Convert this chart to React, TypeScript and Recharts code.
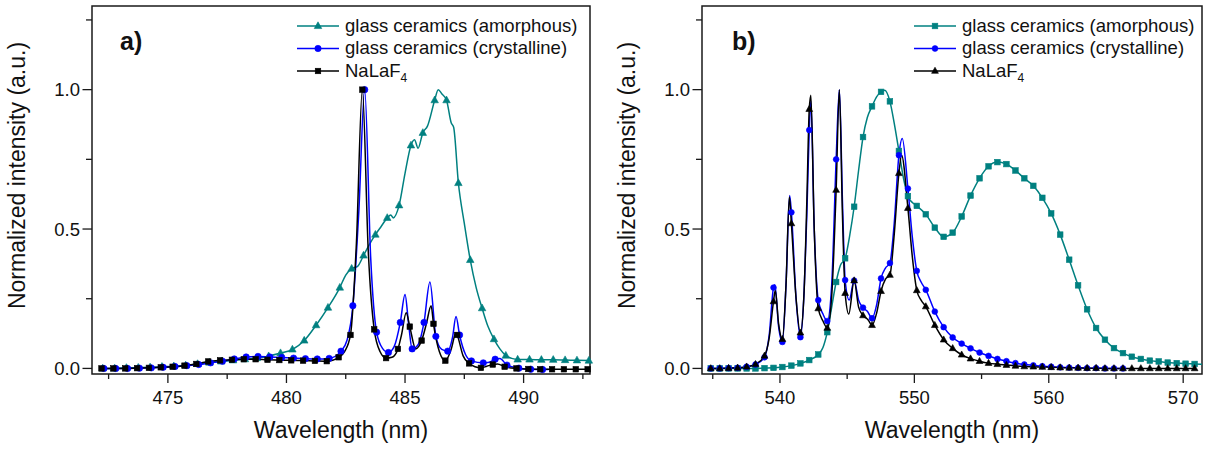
import React from 'react';
import { LineChart, Line, XAxis, YAxis, ReferenceArea, Legend, Label } from 'recharts';

const FONT = '"Liberation Sans", Arial, Helvetica, sans-serif';
const TEAL = '#008080';
const BLUE = '#0000ff';
const BLACK = '#000000';
const AXIS = '#1a1a1a';
const TEXT = '#111111';

// ---------- texts ----------
const SERIES_NAMES = ['glass ceramics (amorphous)', 'glass ceramics (crystalline)', 'NaLaF4'];
const X_TITLE = 'Wavelength (nm)';
const Y_TITLE = 'Normalized intensity (a.u.)';
const PANEL_LABELS = ['a)', 'b)'];

// ---------- axes ----------
const A_X_DOMAIN = [471.8, 492.8];
const A_X_MAJOR = [475, 480, 485, 490];
const A_X_MINOR = [472.5, 477.5, 482.5, 487.5, 492.5];
const B_X_DOMAIN = [534.2, 571.4];
const B_X_MAJOR = [540, 550, 560, 570];
const B_X_MINOR = [535, 545, 555, 565];
const Y_DOMAIN = [-0.02, 1.3];
const Y_MAJOR = [0, 0.5, 1.0];
const Y_MINOR = [0.25, 0.75, 1.25];

// symbol sampling (first symbol wavelength, spacing in nm)
const A_SYMBOL_START = [472.25, 472.3, 472.2];
const A_SYMBOL_STEP = 0.5;
const B_SYMBOL_START = [534.85, 534.85, 534.85];
const B_SYMBOL_STEP = 2 / 3;

// ---------- panel a data: [wavelength nm, normalized intensity] ----------
const A_AMORPHOUS: [number, number][] = [
  [472.25, 0.0], [472.75, 0.0], [473.25, 0.002], [473.75, 0.003], [474.25, 0.004], [474.75, 0.006],
  [475.25, 0.008], [475.75, 0.011], [476.25, 0.016], [476.75, 0.021], [477.25, 0.025], [477.75, 0.029],
  [478.25, 0.033], [478.75, 0.037], [479.25, 0.044], [479.75, 0.055], [480.25, 0.068], [480.75, 0.1],
  [481.25, 0.155], [481.75, 0.218], [482.25, 0.29], [482.5, 0.335], [482.75, 0.358], [483.0, 0.366],
  [483.25, 0.405], [483.5, 0.445], [483.75, 0.48], [484.0, 0.51], [484.25, 0.54], [484.4, 0.55],
  [484.5, 0.54], [484.75, 0.585], [485.0, 0.7], [485.25, 0.8], [485.4, 0.82], [485.55, 0.79],
  [485.75, 0.845], [485.95, 0.87], [486.25, 0.962], [486.4, 1.0], [486.55, 0.985], [486.75, 0.962],
  [486.95, 0.88], [487.05, 0.865], [487.25, 0.665], [487.5, 0.52], [487.75, 0.389], [488.0, 0.29],
  [488.25, 0.216], [488.5, 0.15], [488.75, 0.105], [489.0, 0.07], [489.25, 0.046], [489.5, 0.036],
  [489.75, 0.032], [490.25, 0.032], [490.75, 0.031], [491.25, 0.031], [491.75, 0.03], [492.25, 0.029],
  [492.75, 0.028],
];
const A_CRYSTALLINE: [number, number][] = [
  [472.3, 0.0], [472.8, 0.0], [473.3, 0.0], [473.8, 0.001], [474.3, 0.002], [474.8, 0.004],
  [475.3, 0.007], [475.8, 0.01], [476.3, 0.014], [476.8, 0.02], [477.3, 0.026], [477.8, 0.034],
  [478.3, 0.041], [478.8, 0.043], [479.3, 0.041], [479.8, 0.039], [480.3, 0.037], [480.8, 0.035],
  [481.3, 0.034], [481.8, 0.036], [482.3, 0.062], [482.55, 0.1], [482.8, 0.225], [483.05, 0.56],
  [483.3, 1.0], [483.55, 0.4], [483.8, 0.13], [484.05, 0.072], [484.3, 0.057], [484.55, 0.08],
  [484.8, 0.165], [485.0, 0.265], [485.15, 0.16], [485.3, 0.07], [485.55, 0.085], [485.8, 0.165],
  [486.05, 0.31], [486.3, 0.115], [486.55, 0.068], [486.8, 0.062], [487.0, 0.11], [487.15, 0.186],
  [487.3, 0.12], [487.55, 0.05], [487.8, 0.027], [488.3, 0.02], [488.55, 0.022], [488.8, 0.033],
  [489.0, 0.036], [489.3, 0.012], [489.8, 0.001], [490.3, -0.003], [490.8, -0.004], [491.05, -0.004],
];
const A_NALAF4: [number, number][] = [
  [472.2, 0.0], [472.7, 0.0], [473.2, 0.0], [473.7, 0.001], [474.2, 0.002], [474.7, 0.004],
  [475.2, 0.006], [475.7, 0.01], [476.2, 0.016], [476.7, 0.025], [477.2, 0.029], [477.7, 0.031],
  [478.2, 0.033], [478.7, 0.033], [479.2, 0.031], [479.7, 0.03], [480.2, 0.029], [480.7, 0.028],
  [481.2, 0.027], [481.7, 0.026], [482.2, 0.04], [482.45, 0.06], [482.7, 0.12], [482.95, 0.45],
  [483.2, 1.0], [483.45, 0.42], [483.7, 0.14], [483.95, 0.06], [484.2, 0.037], [484.45, 0.04],
  [484.7, 0.07], [484.85, 0.12], [485.05, 0.2], [485.2, 0.15], [485.45, 0.07], [485.7, 0.1],
  [485.9, 0.16], [486.1, 0.225], [486.2, 0.16], [486.45, 0.06], [486.7, 0.028], [486.95, 0.07],
  [487.15, 0.128], [487.2, 0.12], [487.45, 0.045], [487.7, 0.018], [487.95, 0.006], [488.2, 0.002],
  [488.45, 0.008], [488.7, 0.014], [488.9, 0.016], [489.2, 0.006], [489.7, 0.0], [490.2, -0.002],
  [490.7, -0.003], [491.2, -0.003], [491.7, -0.003], [492.2, -0.003], [492.7, -0.003],
];

// ---------- panel b data ----------
const B_AMORPHOUS: [number, number][] = [
  [534.85, 0], [535.52, 0], [536.18, 0], [536.85, 0], [537.52, 0], [538.18, 0], [538.85, 0.001],
  [539.52, 0.002], [540.18, 0.005], [540.85, 0.01], [541.52, 0.018], [542.18, 0.03], [542.85, 0.05],
  [543.2, 0.075], [543.52, 0.13], [543.85, 0.22], [544.18, 0.31], [544.5, 0.37], [544.85, 0.395],
  [545.2, 0.48], [545.52, 0.58], [545.85, 0.71], [546.18, 0.83], [546.5, 0.9], [546.85, 0.94],
  [547.2, 0.975], [547.52, 0.992], [547.8, 0.998], [548.18, 0.958], [548.5, 0.88], [548.85, 0.78],
  [549.2, 0.68], [549.52, 0.618], [549.85, 0.595], [550.18, 0.583], [550.85, 0.553], [551.52, 0.505],
  [552.18, 0.472], [552.85, 0.487], [553.52, 0.545], [554.18, 0.62], [554.85, 0.682], [555.52, 0.725],
  [556.18, 0.74], [556.85, 0.733], [557.52, 0.71], [558.18, 0.682], [558.85, 0.655], [559.52, 0.612],
  [560.18, 0.556], [560.85, 0.48], [561.52, 0.39], [562.18, 0.298], [562.85, 0.212], [563.52, 0.145],
  [564.18, 0.103], [564.85, 0.073], [565.52, 0.055], [566.18, 0.042], [566.85, 0.034], [567.52, 0.028],
  [568.18, 0.025], [568.85, 0.021], [569.52, 0.019], [570.18, 0.017], [570.85, 0.016], [571.4, 0.015],
];
const B_CRYSTALLINE: [number, number][] = [
  [534.85, 0], [535.52, 0], [536.18, 0.001], [536.85, 0.002], [537.52, 0.006], [538.18, 0.014],
  [538.85, 0.04], [539.2, 0.12], [539.52, 0.29], [539.62, 0.3], [539.9, 0.15], [540.18, 0.095],
  [540.45, 0.3], [540.72, 0.62], [540.85, 0.56], [541.2, 0.25], [541.52, 0.112], [541.8, 0.28],
  [542.0, 0.55], [542.18, 0.855], [542.3, 0.96], [542.55, 0.5], [542.85, 0.245], [543.2, 0.195],
  [543.52, 0.17], [543.85, 0.3], [544.18, 0.75], [544.42, 1.0], [544.65, 0.6], [544.85, 0.317],
  [545.15, 0.245], [545.52, 0.315], [545.85, 0.245], [546.18, 0.218], [546.5, 0.205], [546.85, 0.18],
  [547.2, 0.23], [547.52, 0.323], [547.85, 0.36], [548.18, 0.378], [548.5, 0.52], [548.85, 0.765],
  [549.1, 0.825], [549.52, 0.645], [549.85, 0.47], [550.18, 0.35], [550.5, 0.31], [550.85, 0.282],
  [551.52, 0.204], [552.18, 0.148], [552.85, 0.111], [553.52, 0.089], [554.18, 0.072], [554.85, 0.057],
  [555.52, 0.045], [556.18, 0.034], [556.85, 0.026], [557.52, 0.019], [558.18, 0.014], [558.85, 0.011],
  [559.52, 0.008], [560.18, 0.006], [560.85, 0.004], [561.52, 0.003], [562.18, 0.002], [562.85, 0.001],
  [563.52, 0.001], [564.18, 0], [564.85, 0], [565.52, 0],
];
const B_NALAF4: [number, number][] = [
  [534.85, 0], [535.52, 0], [536.18, 0.001], [536.85, 0.002], [537.52, 0.006], [538.18, 0.015],
  [538.85, 0.045], [539.2, 0.11], [539.52, 0.24], [539.65, 0.28], [539.9, 0.16], [540.18, 0.105],
  [540.45, 0.3], [540.7, 0.615], [540.85, 0.52], [541.2, 0.25], [541.52, 0.128], [541.8, 0.28],
  [542.0, 0.6], [542.18, 0.93], [542.3, 0.98], [542.55, 0.5], [542.85, 0.215], [543.2, 0.17],
  [543.52, 0.145], [543.85, 0.26], [544.18, 0.64], [544.42, 1.0], [544.65, 0.55], [544.85, 0.27],
  [545.12, 0.195], [545.52, 0.315], [545.85, 0.22], [546.18, 0.19], [546.55, 0.175], [546.85, 0.155],
  [547.2, 0.2], [547.52, 0.277], [547.85, 0.32], [548.18, 0.335], [548.5, 0.48], [548.85, 0.7],
  [549.05, 0.765], [549.52, 0.575], [549.85, 0.4], [550.18, 0.28], [550.5, 0.245], [550.85, 0.222],
  [551.52, 0.155], [552.18, 0.103], [552.85, 0.072], [553.52, 0.049], [554.18, 0.035], [554.85, 0.026],
  [555.52, 0.019], [556.18, 0.015], [556.85, 0.012], [557.52, 0.009], [558.18, 0.007], [558.85, 0.006],
  [559.52, 0.005], [560.18, 0.004], [560.85, 0.003], [561.52, 0.002], [562.18, 0.002], [562.85, 0.001],
  [563.52, 0.001], [564.18, 0], [564.85, 0], [565.52, 0], [566.18, 0], [566.85, 0], [567.52, 0],
  [568.18, 0], [568.85, 0], [569.52, 0], [570.18, 0], [570.85, 0],
];

type Shape = 'triangle' | 'circle' | 'square';
const toPts = (arr: [number, number][]) => arr.map(([x, y]) => ({ x, y }));

function Marker({ cx, cy, shape, color, size }: { cx: number; cy: number; shape: Shape; color: string; size: number }) {
  if (shape === 'circle') return <circle cx={cx} cy={cy} r={size / 2} fill={color} stroke={color} strokeWidth={0.6} />;
  if (shape === 'square')
    return <rect x={cx - size / 2} y={cy - size / 2} width={size} height={size} fill={color} stroke={color} strokeWidth={0.6} />;
  const h = size * 0.9;
  return (
    <polygon
      points={`${cx},${cy - h * 0.62} ${cx - size / 2},${cy + h * 0.38} ${cx + size / 2},${cy + h * 0.38}`}
      fill={color}
      stroke={color}
      strokeWidth={0.6}
    />
  );
}

const makeDot = (shape: Shape, color: string, size: number, x0: number, step: number) => (props: any) => {
  const { cx, cy, payload, index } = props;
  const k = (payload.x - x0) / step;
  const on = Math.abs(k - Math.round(k)) * step < 0.03;
  if (!on || cx == null || cy == null || isNaN(cx) || isNaN(cy)) return <g key={`d${index}`} />;
  return (
    <g key={`d${index}`}>
      <Marker cx={cx} cy={cy} shape={shape} color={color} size={size} />
    </g>
  );
};

const makeXTick = (major: number[]) => (props: any) => {
  const { x, y, payload } = props;
  const isMajor = major.some((m) => Math.abs(m - payload.value) < 1e-6);
  return (
    <g>
      <line x1={x} y1={y} x2={x} y2={y + (isMajor ? 9 : 5)} stroke={AXIS} strokeWidth={1.3} />
      {isMajor && (
        <text x={x} y={y + 30} textAnchor="middle" fontSize={18.5} fontFamily={FONT} fill={TEXT}>
          {String(payload.value)}
        </text>
      )}
    </g>
  );
};

const YTick = (props: any) => {
  const { x, y, payload } = props;
  const isMajor = Y_MAJOR.some((m) => Math.abs(m - payload.value) < 1e-6);
  return (
    <g>
      <line x1={x - (isMajor ? 9.5 : 6)} y1={y} x2={x} y2={y} stroke={AXIS} strokeWidth={1.3} />
      {isMajor && (
        <text x={x - 12} y={y + 6.6} textAnchor="end" fontSize={18.5} fontFamily={FONT} fill={TEXT}>
          {Number(payload.value).toFixed(1)}
        </text>
      )}
    </g>
  );
};

const XTitle = (props: any) => {
  const vb = props.viewBox || { x: 0, y: 0, width: 0, height: 0 };
  return (
    <text x={vb.x + vb.width / 2} y={vb.y + 64} textAnchor="middle" fontSize={23} fontFamily={FONT} fill={TEXT}>
      {X_TITLE}
    </text>
  );
};

const YTitle = (props: any) => {
  const vb = props.viewBox || { x: 0, y: 0, width: 0, height: 0 };
  const cx = vb.x + vb.width - 67;
  const cy = vb.y + vb.height / 2 - 14.5;
  return (
    <text x={cx} y={cy} transform={`rotate(-90 ${cx} ${cy})`} textAnchor="middle" fontSize={23} fontFamily={FONT} fill={TEXT}>
      {Y_TITLE}
    </text>
  );
};

type SeriesDef = { name: string; data: [number, number][]; color: string; shape: Shape; size: number; x0: number; step: number };

function SeriesName({ name, x, y }: { name: string; x: number; y: number }) {
  const m = name.match(/^(.*[A-Za-z])(\d+)$/);
  return (
    <text x={x} y={y} fontSize={18.5} fontFamily={FONT} fill={TEXT}>
      {m ? (
        <>
          <tspan>{m[1]}</tspan>
          <tspan dy={5} fontSize={12}>{m[2]}</tspan>
        </>
      ) : (
        name
      )}
    </text>
  );
}

function LegendBox({ series }: { series: SeriesDef[] }) {
  const rows = [14, 36.5, 59];
  return (
    <svg width={300} height={74} style={{ overflow: 'visible', display: 'block' }}>
      {series.map((s, i) => (
        <g key={s.name}>
          <line x1={0} y1={rows[i]} x2={42} y2={rows[i]} stroke={s.color} strokeWidth={1.5} />
          <Marker cx={21} cy={rows[i]} shape={s.shape} color={s.color} size={s.size} />
          <SeriesName name={s.name} x={48} y={rows[i] + 5.5} />
        </g>
      ))}
    </svg>
  );
}

function Panel({
  left, width, yAxisWidth, marginRight, xDomain, xMajor, xMinor, series, label, labelX, legendLeft,
}: {
  left: number; width: number; yAxisWidth: number; marginRight: number; xDomain: number[]; xMajor: number[];
  xMinor: number[]; series: SeriesDef[]; label: string; labelX: number; legendLeft: number;
}) {
  const xTicks = [...xMajor, ...xMinor].sort((a, b) => a - b);
  const yTicks = [...Y_MAJOR, ...Y_MINOR].sort((a, b) => a - b);
  return (
    <div style={{ position: 'absolute', left, top: 0, width, height: 449 }}>
      <LineChart width={width} height={449} margin={{ top: 6, right: marginRight, bottom: 0, left: 0 }}>
        <XAxis
          type="number"
          dataKey="x"
          domain={xDomain}
          ticks={xTicks}
          interval={0}
          tickSize={0}
          tickMargin={0}
          axisLine={false}
          tickLine={false}
          tick={makeXTick(xMajor)}
          height={75}
        >
          <Label content={XTitle} />
        </XAxis>
        <YAxis
          type="number"
          dataKey="y"
          domain={Y_DOMAIN}
          ticks={yTicks}
          interval={0}
          tickSize={0}
          tickMargin={0}
          axisLine={false}
          tickLine={false}
          tick={YTick}
          width={yAxisWidth}
        >
          <Label content={YTitle} />
        </YAxis>
        <ReferenceArea
          x1={xDomain[0]}
          x2={xDomain[1]}
          y1={Y_DOMAIN[0]}
          y2={Y_DOMAIN[1]}
          fill="none"
          fillOpacity={0}
          stroke={AXIS}
          strokeWidth={1.5}
          ifOverflow="visible"
        />
        {series.map((s) => (
          <Line
            key={s.name}
            name={s.name}
            data={toPts(s.data)}
            dataKey="y"
            type="monotone"
            stroke={s.color}
            strokeWidth={1.5}
            dot={makeDot(s.shape, s.color, s.size, s.x0, s.step)}
            activeDot={false}
            isAnimationActive={false}
            legendType="none"
          />
        ))}
        <Legend
          layout="vertical"
          align="center"
          verticalAlign="middle"
          wrapperStyle={{ position: 'absolute', left: legendLeft, top: 12, width: 300, height: 74, margin: 0, padding: 0 }}
          content={() => <LegendBox series={series} />}
        />
      </LineChart>
      <svg width={width} height={449} style={{ position: 'absolute', left: 0, top: 0, pointerEvents: 'none' }}>
        <text x={labelX} y={50} fontSize={25} fontWeight="bold" fontFamily={FONT} fill={TEXT}>
          {label}
        </text>
      </svg>
    </div>
  );
}

export default function App() {
  const seriesA: SeriesDef[] = [
    { name: SERIES_NAMES[0], data: A_AMORPHOUS, color: TEAL, shape: 'triangle', size: 7.5, x0: A_SYMBOL_START[0], step: A_SYMBOL_STEP },
    { name: SERIES_NAMES[1], data: A_CRYSTALLINE, color: BLUE, shape: 'circle', size: 6.4, x0: A_SYMBOL_START[1], step: A_SYMBOL_STEP },
    { name: SERIES_NAMES[2], data: A_NALAF4, color: BLACK, shape: 'square', size: 5.5, x0: A_SYMBOL_START[2], step: A_SYMBOL_STEP },
  ];
  const seriesB: SeriesDef[] = [
    { name: SERIES_NAMES[0], data: B_AMORPHOUS, color: TEAL, shape: 'square', size: 5.6, x0: B_SYMBOL_START[0], step: B_SYMBOL_STEP },
    { name: SERIES_NAMES[1], data: B_CRYSTALLINE, color: BLUE, shape: 'circle', size: 5.8, x0: B_SYMBOL_START[1], step: B_SYMBOL_STEP },
    { name: SERIES_NAMES[2], data: B_NALAF4, color: BLACK, shape: 'triangle', size: 6.8, x0: B_SYMBOL_START[2], step: B_SYMBOL_STEP },
  ];
  return (
    <div style={{ position: 'absolute', left: 0, top: 0, width: 1207, height: 449, background: '#ffffff', overflow: 'hidden' }}>
      <Panel
        left={0}
        width={600}
        yAxisWidth={92}
        marginRight={10}
        xDomain={A_X_DOMAIN}
        xMajor={A_X_MAJOR}
        xMinor={A_X_MINOR}
        series={seriesA}
        label={PANEL_LABELS[0]}
        labelX={120}
        legendLeft={297}
      />
      <Panel
        left={600}
        width={607}
        yAxisWidth={102}
        marginRight={5}
        xDomain={B_X_DOMAIN}
        xMajor={B_X_MAJOR}
        xMinor={B_X_MINOR}
        series={seriesB}
        label={PANEL_LABELS[1]}
        labelX={132}
        legendLeft={314}
      />
    </div>
  );
}
